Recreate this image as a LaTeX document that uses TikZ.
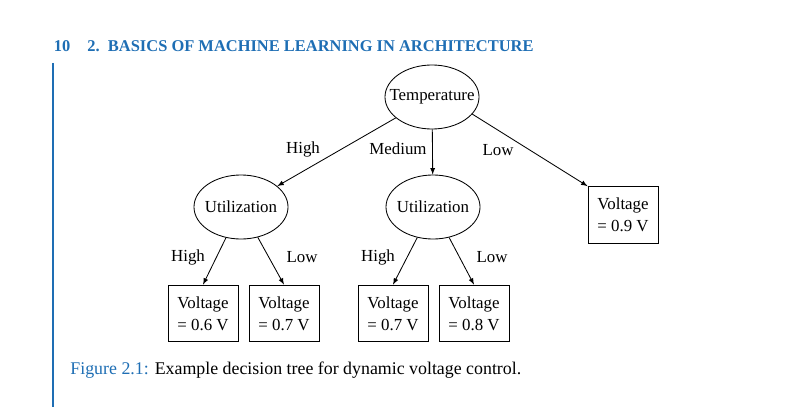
\documentclass[tikz,border=0pt]{standalone}
\usepackage{fontspec}
\setmainfont{Liberation Serif}
\usetikzlibrary{shapes.geometric}
\definecolor{pageblue}{RGB}{30,110,180}
\newcommand{\nowidth}[1]{\makebox[0pt]{#1}}
\tikzset{
  testnode/.style={draw,ellipse,minimum width=2.35cm,minimum height=1.6cm,inner sep=0pt,
    font=\fontsize{12}{14}\selectfont},
  leafnode/.style={draw,rectangle,minimum width=1.75cm,minimum height=1.42cm,inner sep=0pt,
    align=center,font=\fontsize{12}{15.5}\selectfont},
  branch/.style={font=\fontsize{12}{14}\selectfont}
}
\begin{document}
\begin{tikzpicture}[x=0.025cm,y=-0.025cm,semithick,>=latex]
\useasboundingbox(0,0)rectangle(799,407);
% page head and rule
\node[text=pageblue,font=\bfseries\fontsize{11.7}{14}\selectfont](pageno)at(62,46){10};
\node[text=pageblue,font=\bfseries\fontsize{11.7}{14}\selectfont,anchor=west,inner sep=0pt](chapter)at(87,46){2.\ \ BASICS OF MACHINE LEARNING IN ARCHITECTURE};
\draw[pageblue,line width=1.4pt](53,63)--(53,407);
% tree
\node[testnode](temp)at(432,97){\nowidth{Temperature}};
\node[testnode](utilA)at(241,207){\nowidth{Utilization}};
\node[testnode](utilB)at(433,207){\nowidth{Utilization}};
\node[leafnode](volt9)at(623,215){Voltage\\= 0.9 V};
\node[leafnode](voltA)at(203,313.5){Voltage\\= 0.6 V};
\node[leafnode](voltB)at(284,313.5){Voltage\\= 0.7 V};
\node[leafnode](voltC)at(393,313.5){Voltage\\= 0.7 V};
\node[leafnode](voltD)at(474,313.5){Voltage\\= 0.8 V};
\draw[->](temp)--(utilA);
\draw[->](temp)--(utilB);
\draw[->](temp.-23)--(volt9.north west);
\draw[->](utilA)--(voltA.north);
\draw[->](utilA)--(voltB.north);
\draw[->](utilB)--(voltC.north);
\draw[->](utilB)--(voltD.north);
\node[branch](hiT)at(303,149){High};
\node[branch](medT)at(398,149){Medium};
\node[branch](loT)at(498,150){Low};
\node[branch](hiA)at(188,257){High};
\node[branch](loA)at(302,257){Low};
\node[branch](hiB)at(378,257){High};
\node[branch](loB)at(492,257){Low};
% caption
\node[anchor=west,inner sep=0pt,font=\fontsize{12.7}{14}\selectfont](cap)at(70,370){\textcolor{pageblue}{Figure 2.1:} Example decision tree for dynamic voltage control.};
\end{tikzpicture}
\end{document}
